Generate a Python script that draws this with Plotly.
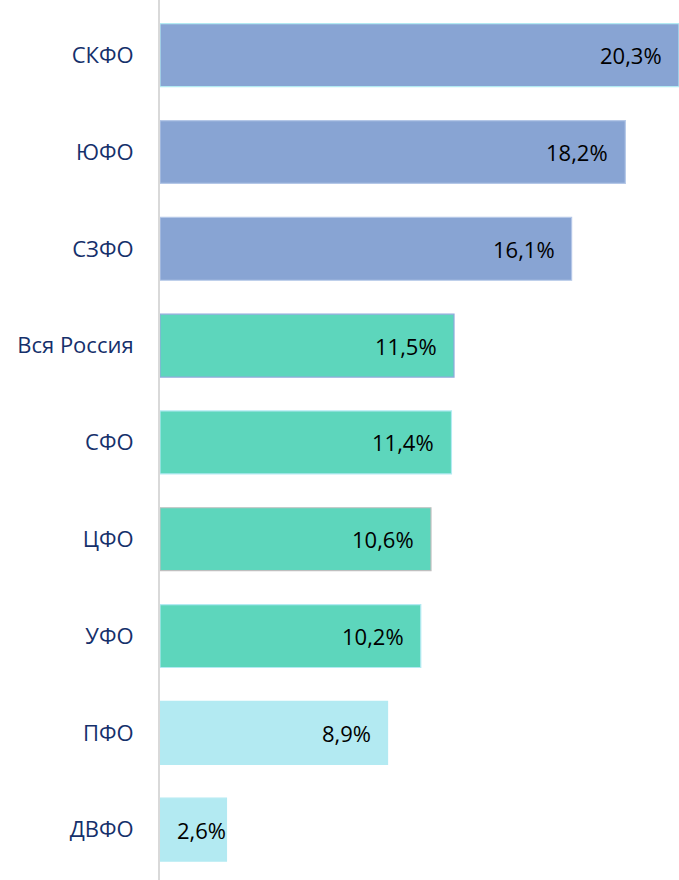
import plotly.graph_objects as go

# Federal districts, top to bottom
regions = ["СКФО", "ЮФО", "СЗФО", "Вся Россия", "СФО", "ЦФО", "УФО", "ПФО", "ДВФО"]
values = [20.3, 18.2, 16.1, 11.5, 11.4, 10.6, 10.2, 8.9, 2.6]
labels = ["20,3%", "18,2%", "16,1%", "11,5%", "11,4%", "10,6%", "10,2%", "8,9%", "2,6%"]

BLUE = "#88A4D3"
GREEN = "#5DD6BC"
CYAN = "#B3EAF2"
fill_colors = [BLUE, BLUE, BLUE, GREEN, GREEN, GREEN, GREEN, CYAN, CYAN]
edge_colors = ["#B3EAF2", "#B4C7E7", "#B4C7E7", "#8FAADC", "#B3EAF2",
               "#BFBFBF", "#B3EAF2", CYAN, CYAN]

X_MAX = 20.3
PLOT_W = 679 - 160

fig = go.Figure(
    go.Bar(
        x=values,
        y=regions,
        orientation="h",
        marker=dict(color=fill_colors, line=dict(color=edge_colors, width=1.2)),
        hoverinfo="skip",
    )
)

# value labels at the inner end of each bar; short bars get them from the base
for reg, val, lab in zip(regions, values, labels):
    bar_px = val / X_MAX * PLOT_W
    if bar_px > 90:
        fig.add_annotation(x=val, y=reg, text=lab, xanchor="right", xshift=-15,
                           showarrow=False, font=dict(size=22, color="#000000"))
    else:
        fig.add_annotation(x=0, y=reg, text=lab, xanchor="left", xshift=15,
                           showarrow=False, font=dict(size=22, color="#000000"))

fig.update_layout(
    width=679,
    height=880,
    margin=dict(l=160, r=0, t=0, b=0),
    paper_bgcolor="white",
    plot_bgcolor="white",
    bargap=0.35,
    showlegend=False,
    font=dict(family="Open Sans", size=22),
    xaxis=dict(range=[0, X_MAX], visible=False, fixedrange=True),
    yaxis=dict(
        range=[8.52, -0.57],
        showgrid=False,
        zeroline=False,
        showline=True,
        linecolor="#D9D9D9",
        linewidth=2,
        ticks="",
        ticklabelstandoff=20,
        tickfont=dict(family="Open Sans", size=22, color="#15306B"),
        layer="below traces",
    ),
)

fig.write_html("out.html")
